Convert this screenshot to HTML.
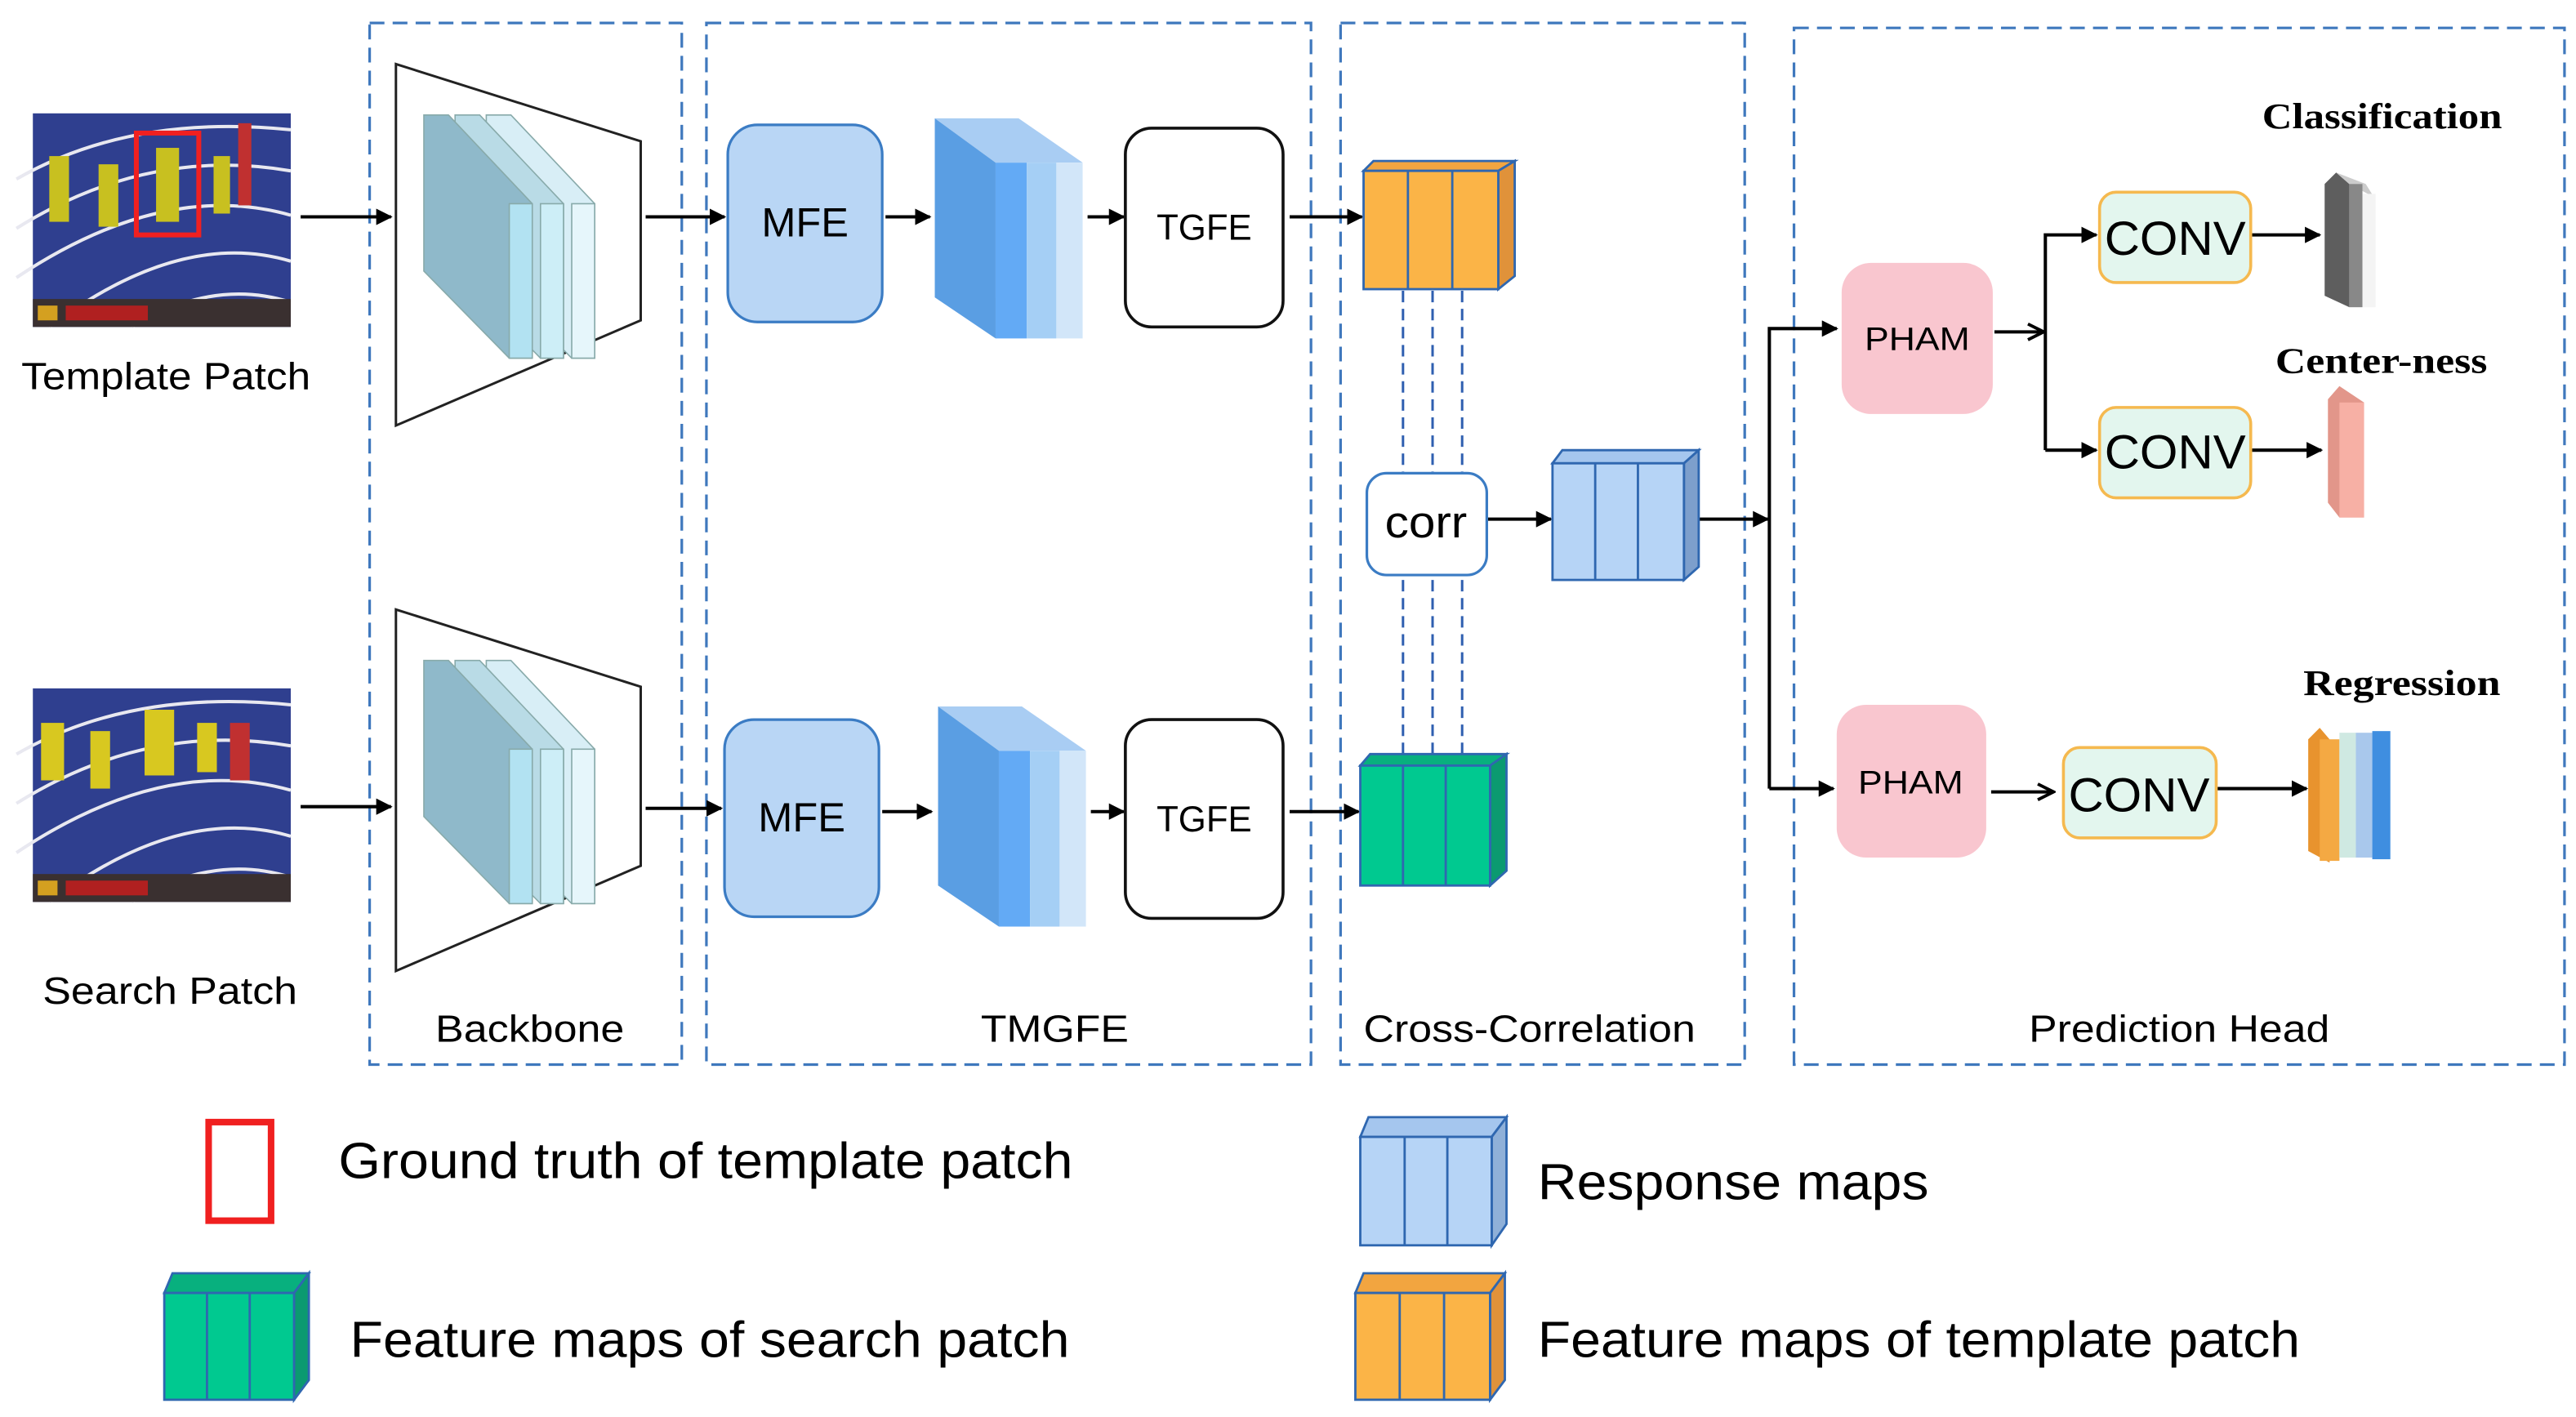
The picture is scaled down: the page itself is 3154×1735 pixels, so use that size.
<!DOCTYPE html>
<html><head><meta charset="utf-8"><style>html,body{margin:0;padding:0;background:#fff}svg{display:block}</style></head>
<body>
<svg width="3154" height="1735" viewBox="0 0 1568 862.5" preserveAspectRatio="none" xmlns="http://www.w3.org/2000/svg" font-family="Liberation Sans, sans-serif">
<defs>
<marker id="a" viewBox="0 0 10 10" refX="9" refY="5" markerWidth="5" markerHeight="5" orient="auto"><path d="M0,0 L10,5 L0,10 z" fill="#000"/></marker>
<marker id="o" viewBox="0 0 10 10" refX="9" refY="5" markerWidth="6" markerHeight="6" orient="auto"><path d="M1,1 L9,5 L1,9" fill="none" stroke="#000" stroke-width="1.6"/></marker>
<g id="photo">
<rect x="0" y="0" width="157" height="130" fill="#2f3f8f"/>
<path d="M-10,40 Q60,0 157,10 M-10,70 Q70,20 157,35 M-10,100 Q80,40 157,62 M10,130 Q90,70 157,90 M60,130 Q110,100 157,115" fill="none" stroke="#e8e8f0" stroke-width="2"/>
<rect x="0" y="113" width="157" height="17" fill="#3a3030"/><rect x="3" y="117" width="12" height="9" fill="#d4a020"/><rect x="20" y="117" width="50" height="9" fill="#b02020"/>
</g>
</defs>
<use href="#photo" x="20" y="69"/>
<g fill="#c8c020"><rect x="30" y="95" width="12" height="40"/><rect x="60" y="100" width="12" height="38"/><rect x="95" y="90" width="14" height="45"/><rect x="130" y="95" width="10" height="35"/></g>
<rect x="145" y="75" width="8" height="50" fill="#c03030"/>
<rect x="83" y="81" width="38" height="62" fill="none" stroke="#f02020" stroke-width="3"/>
<use href="#photo" x="20" y="419"/>
<g fill="#d8c820"><rect x="25" y="440" width="14" height="35"/><rect x="55" y="445" width="12" height="35"/><rect x="88" y="432" width="18" height="40"/><rect x="120" y="440" width="12" height="30"/></g>
<rect x="140" y="440" width="12" height="35" fill="#c03030"/>
<g font-size="23" lengthAdjust="spacingAndGlyphs">
<text x="13" y="237" textLength="176" lengthAdjust="spacingAndGlyphs">Template Patch</text>
<text x="26" y="611" textLength="155" lengthAdjust="spacingAndGlyphs">Search Patch</text>
<text x="265" y="634" textLength="115" lengthAdjust="spacingAndGlyphs">Backbone</text>
<text x="597" y="634" textLength="90" lengthAdjust="spacingAndGlyphs">TMGFE</text>
<text x="830" y="634" textLength="202" lengthAdjust="spacingAndGlyphs">Cross-Correlation</text>
<text x="1235" y="634" textLength="183" lengthAdjust="spacingAndGlyphs">Prediction Head</text></g>
<g fill="none" stroke="#3f78bd" stroke-width="1.6" stroke-dasharray="9,5">
<rect x="225" y="14" width="190" height="634"/><rect x="430" y="14" width="368" height="634"/><rect x="816" y="14" width="246" height="634"/><rect x="1092" y="17" width="469" height="631"/></g>
<g id="bb">
<polygon points="241,39 390,86 390,195 241,259" fill="#fff" stroke="#222" stroke-width="1.5"/>
<g stroke="#8aa" stroke-width="0.8">
<polygon points="296,70 311,70 362,124 362,218 348,218 296,165" fill="#d8eef6"/><rect x="348" y="124" width="14" height="94" fill="#e6f6fb"/>
<polygon points="277,70 292,70 343,124 343,218 329,218 277,165" fill="#b9dbe6"/><rect x="329" y="124" width="14" height="94" fill="#cdeef7"/>
<polygon points="258,70 273,70 324,124 324,218 310,218 258,165" fill="#8fb9ca"/><rect x="310" y="124" width="14" height="94" fill="#b2e2f2"/>
</g></g>
<use href="#bb" y="332"/>
<g stroke="#000" stroke-width="2" marker-end="url(#a)" fill="none">
<line x1="183" y1="132" x2="238" y2="132"/><line x1="183" y1="491" x2="238" y2="491"/>
<line x1="393" y1="132" x2="441" y2="132"/><line x1="393" y1="492" x2="439" y2="492"/>
<line x1="539" y1="132" x2="566" y2="132"/><line x1="537" y1="494" x2="567" y2="494"/>
<line x1="662" y1="132" x2="684" y2="132"/><line x1="664" y1="494" x2="684" y2="494"/>
<line x1="785" y1="132" x2="829" y2="132"/><line x1="785" y1="494" x2="827" y2="494"/>
<line x1="905" y1="316" x2="944" y2="316"/><line x1="1034" y1="316" x2="1076" y2="316"/>
<polyline points="1077,480 1077,200 1118,200"/><line x1="1077" y1="480" x2="1116" y2="480"/>
<polyline points="1245,274 1245,143 1276,143"/><line x1="1245" y1="274" x2="1276" y2="274"/>
<line x1="1370" y1="143" x2="1412" y2="143"/><line x1="1370" y1="274" x2="1413" y2="274"/><line x1="1349" y1="480" x2="1404" y2="480"/>
</g>
<g stroke="#000" stroke-width="2" fill="none" marker-end="url(#o)"><line x1="1214" y1="202" x2="1244" y2="202"/><line x1="1212" y1="482" x2="1250" y2="482"/></g>
<g fill="#b9d6f5" stroke="#3b7cc4" stroke-width="1.6"><rect x="443" y="76" width="94" height="120" rx="18"/><rect x="441" y="438" width="94" height="120" rx="18"/></g>
<g id="bs">
<polygon points="569,72 620,72 659,99 606,99" fill="#a9cdf3"/>
<polygon points="569,72 606,99 606,206 569,181" fill="#5a9ee3"/>
<rect x="606" y="99" width="19" height="107" fill="#63aaf5"/><rect x="625" y="99" width="18" height="107" fill="#a5cff5"/><rect x="643" y="99" width="16" height="107" fill="#d2e6f9"/>
</g>
<use href="#bs" x="2" y="358"/>
<g fill="#fff" stroke="#111" stroke-width="1.8"><rect x="685" y="78" width="96" height="121" rx="16"/><rect x="685" y="438" width="96" height="121" rx="16"/></g>
<g font-size="25" text-anchor="middle"><text x="490" y="144" textLength="53" lengthAdjust="spacingAndGlyphs">MFE</text><text x="488" y="506" textLength="53" lengthAdjust="spacingAndGlyphs">MFE</text>
<text x="733" y="146" font-size="22" textLength="58" lengthAdjust="spacingAndGlyphs">TGFE</text><text x="733" y="506" font-size="22" textLength="58" lengthAdjust="spacingAndGlyphs">TGFE</text></g>
<g stroke="#2f5fb0" stroke-width="1.5" stroke-dasharray="7,4"><line x1="854" y1="177" x2="854" y2="459"/><line x1="872" y1="177" x2="872" y2="459"/><line x1="890" y1="177" x2="890" y2="459"/></g>
<g stroke="#2f67b0" stroke-width="1.4">
<polygon points="830,104 836,98 922,98 912,104" fill="#f2a540"/><polygon points="912,104 922,98 922,168 912,176" fill="#e0923a"/>
<rect x="830" y="104" width="82" height="72" fill="#fbb447"/><line x1="857" y1="104" x2="857" y2="176"/><line x1="884" y1="104" x2="884" y2="176"/>
<polygon points="828,466 834,459 917,459 907,466" fill="#08b07e"/><polygon points="907,466 917,459 917,530 907,539" fill="#0b9a70"/>
<rect x="828" y="466" width="79" height="73" fill="#00c990"/><line x1="854" y1="466" x2="854" y2="539"/><line x1="880" y1="466" x2="880" y2="539"/>
<polygon points="945,282 951,274 1034,274 1025,282" fill="#a5c6ee"/><polygon points="1025,282 1034,274 1034,345 1025,353" fill="#7d9fcc"/>
<rect x="945" y="282" width="80" height="71" fill="#b6d4f6"/><line x1="971" y1="282" x2="971" y2="353"/><line x1="997" y1="282" x2="997" y2="353"/>
</g>
<rect x="832" y="288" width="73" height="62" rx="12" fill="#fff" stroke="#3b7cc4" stroke-width="1.6"/>
<text x="868" y="327" font-size="27" text-anchor="middle" textLength="50" lengthAdjust="spacingAndGlyphs">corr</text>
<g fill="#f9c6cf"><rect x="1121" y="160" width="92" height="92" rx="18"/><rect x="1118" y="429" width="91" height="93" rx="18"/></g>
<g font-size="20" text-anchor="middle"><text x="1167" y="213" textLength="64" lengthAdjust="spacingAndGlyphs">PHAM</text><text x="1163" y="483" textLength="64" lengthAdjust="spacingAndGlyphs">PHAM</text></g>
<g fill="#e3f6ee" stroke="#f5b94f" stroke-width="1.8"><rect x="1278" y="117" width="92" height="55" rx="10"/><rect x="1278" y="248" width="92" height="55" rx="10"/><rect x="1256" y="455" width="93" height="55" rx="10"/></g>
<g font-size="29" text-anchor="middle"><text x="1324" y="155" textLength="86" lengthAdjust="spacingAndGlyphs">CONV</text><text x="1324" y="285" textLength="86" lengthAdjust="spacingAndGlyphs">CONV</text><text x="1302" y="494" textLength="86" lengthAdjust="spacingAndGlyphs">CONV</text></g>
<polygon points="1415,112 1422,105 1430,112 1430,187 1415,180" fill="#5e5e5e"/><polygon points="1422,105 1440,112 1445,120 1430,112" fill="#ccc"/><rect x="1430" y="112" width="8" height="75" fill="#888"/><rect x="1438" y="118" width="8" height="69" fill="#f4f4f4"/>
<polygon points="1417,243 1424,235 1439,245 1439,315 1424,315 1417,306" fill="#e2968a"/><rect x="1424" y="245" width="15" height="70" fill="#f7b0a5"/>
<polygon points="1405,450 1412,443 1418,450 1418,525 1405,518" fill="#e8932e"/><rect x="1412" y="450" width="12" height="74" fill="#f4a943"/><rect x="1424" y="446" width="10" height="76" fill="#cfe9e2"/><rect x="1434" y="446" width="10" height="76" fill="#a9c8ec"/><rect x="1444" y="445" width="11" height="78" fill="#3f8ee0"/>
<g font-family="Liberation Serif, serif" font-size="22" font-weight="bold">
<text x="1377" y="78" textLength="146" lengthAdjust="spacingAndGlyphs">Classification</text>
<text x="1385" y="227" textLength="129" lengthAdjust="spacingAndGlyphs">Center-ness</text>
<text x="1402" y="423" textLength="120" lengthAdjust="spacingAndGlyphs">Regression</text></g>
<rect x="127" y="683" width="38" height="60" fill="none" stroke="#f02020" stroke-width="4"/>
<g font-size="31">
<text x="206" y="717" textLength="447" lengthAdjust="spacingAndGlyphs">Ground truth of template patch</text>
<text x="936" y="730" textLength="238" lengthAdjust="spacingAndGlyphs">Response maps</text>
<text x="213" y="826" textLength="438" lengthAdjust="spacingAndGlyphs">Feature maps of search patch</text>
<text x="936" y="826" textLength="464" lengthAdjust="spacingAndGlyphs">Feature maps of template patch</text></g>
<g stroke="#2f67b0" stroke-width="1.4">
<polygon points="828,692 833,680 917,680 908,692" fill="#a5c6ee"/><polygon points="908,692 917,680 917,745 908,758" fill="#8fb0d8"/>
<rect x="828" y="692" width="80" height="66" fill="#b6d4f6"/><line x1="855" y1="692" x2="855" y2="758"/><line x1="881" y1="692" x2="881" y2="758"/>
<polygon points="100,787 105,775 188,775 179,787" fill="#08b07e"/><polygon points="179,787 188,775 188,840 179,852" fill="#0b9a70"/>
<rect x="100" y="787" width="79" height="65" fill="#00c990"/><line x1="126" y1="787" x2="126" y2="852"/><line x1="152" y1="787" x2="152" y2="852"/>
<polygon points="825,787 830,775 916,775 907,787" fill="#f2a540"/><polygon points="907,787 916,775 916,840 907,852" fill="#e0923a"/>
<rect x="825" y="787" width="82" height="65" fill="#fbb447"/><line x1="852" y1="787" x2="852" y2="852"/><line x1="879" y1="787" x2="879" y2="852"/>
</g>
</svg>
</body></html>
